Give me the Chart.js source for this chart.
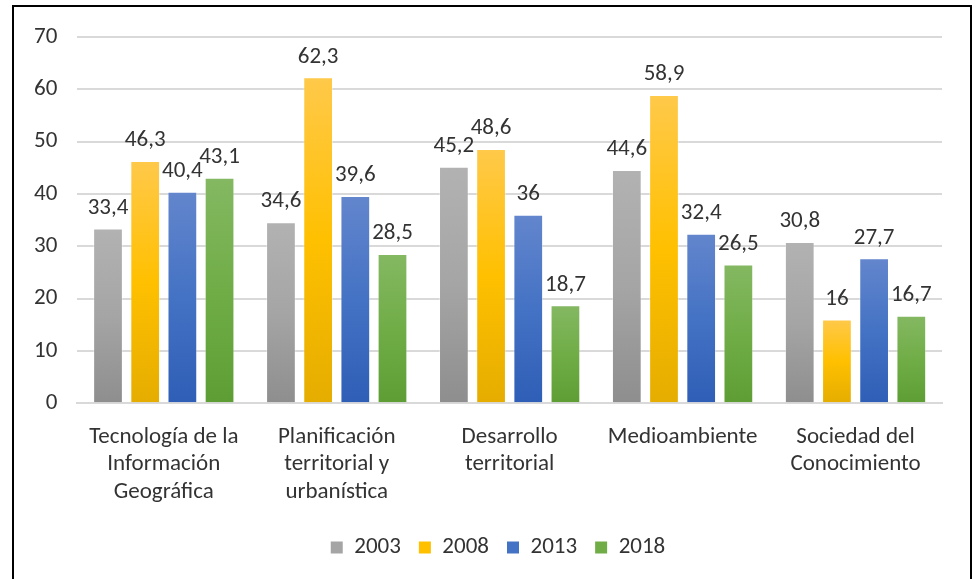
<!DOCTYPE html>
<html lang="es">
<head>
  <meta charset="UTF-8" />
  <title>Áreas temáticas</title>
  <script src="https://cdn.jsdelivr.net/npm/chart.js"></script>
  <style>
    body { margin: 0; background: #fff; }
    #frame {
      position: absolute; left: 12px; top: 5px;
      width: 956px; height: 600px;
      border: 2px solid #000;
    }
    #chart { position: absolute; left: 0; top: 0; }
  </style>
</head>
<body>
  <div id="frame"></div>
  <canvas id="chart" width="976" height="579"></canvas>

  <script>
    const categories = [
      ['Tecnología de la', 'Información', 'Geográfica'],
      ['Planificación', 'territorial y', 'urbanística'],
      ['Desarrollo', 'territorial'],
      'Medioambiente',
      ['Sociedad del', 'Conocimiento']
    ];
    const years = ['2003', '2008', '2013', '2018'];
    const v2003 = [33.4, 34.6, 45.2, 44.6, 30.8];
    const v2008 = [46.3, 62.3, 48.6, 58.9, 16];
    const v2013 = [40.4, 39.6, 36, 32.4, 27.7];
    const v2018 = [43.1, 28.5, 18.7, 26.5, 16.7];
    const yTicks = [0, 10, 20, 30, 40, 50, 60, 70];

    // top / middle / bottom of each bar's gradient
    const shades = [
      ['#b2b2b2', '#a5a5a5', '#8e8e8e'],
      ['#ffc94a', '#ffc000', '#e5ad00'],
      ['#6386cd', '#4472c4', '#2e5eb6'],
      ['#84b862', '#70ad47', '#5e9d34']
    ];

    const font = "Carlito, 'Open Sans', sans-serif";
    const fontSize = 23;
    const textColor = '#333333';

    function barFill(idx) {
      return (ctx) => {
        const chart = ctx.chart;
        const y = chart.scales && chart.scales.y;
        if (!y || ctx.type !== 'data') return shades[idx][1];
        const top = y.getPixelForValue(ctx.raw);
        const base = y.getPixelForValue(0);
        if (!isFinite(top) || top === base) return shades[idx][1];
        const g = chart.ctx.createLinearGradient(0, top, 0, base);
        g.addColorStop(0, shades[idx][0]);
        g.addColorStop(0.5, shades[idx][1]);
        g.addColorStop(1, shades[idx][2]);
        return g;
      };
    }

    // value labels above each bar, decimal comma
    const valueLabels = {
      id: 'valueLabels',
      afterDatasetsDraw(chart) {
        const c = chart.ctx;
        c.save();
        c.font = fontSize + 'px ' + font;
        c.fillStyle = textColor;
        c.textAlign = 'center';
        c.textBaseline = 'bottom';
        chart.data.datasets.forEach((ds, i) => {
          chart.getDatasetMeta(i).data.forEach((bar, j) => {
            const txt = String(ds.data[j]).replace('.', ',');
            c.fillText(txt, bar.x, bar.y - 9);
          });
        });
        c.restore();
      }
    };

    // legend sits a bit right of the canvas centre in the original
    const legendShift = {
      id: 'legendShift',
      afterLayout(chart) {
        chart.legend.left += 20;
        chart.legend.right += 20;
      }
    };

    const series = [v2003, v2008, v2013, v2018];

    new Chart(document.getElementById('chart'), {
      type: 'bar',
      data: {
        labels: categories,
        datasets: series.map((d, i) => ({
          label: years[i],
          data: d,
          backgroundColor: barFill(i),
          borderColor: 'rgba(255,255,255,0.35)',
          borderWidth: 1,
          categoryPercentage: 0.86,
          barPercentage: 0.8
        }))
      },
      options: {
        responsive: false,
        animation: false,
        layout: { padding: { left: 14, right: 34, top: 37, bottom: 10 } },
        plugins: {
          tooltip: { enabled: false },
          legend: {
            position: 'bottom',
            labels: {
              color: textColor,
              font: { size: fontSize, family: font },
              boxWidth: 12,
              boxHeight: 12,
              padding: 18,
              generateLabels: (chart) => years.map((y, i) => ({
                text: y,
                fillStyle: shades[i][1],
                strokeStyle: shades[i][1],
                lineWidth: 0,
                datasetIndex: i,
                fontColor: textColor
              }))
            }
          }
        },
        scales: {
          x: {
            grid: { display: false },
            border: { color: '#d9d9d9', width: 2 },
            ticks: {
              color: textColor,
              font: { size: fontSize, family: font, lineHeight: 1.2 },
              maxRotation: 0,
              padding: 12
            }
          },
          y: {
            min: 0,
            max: 70,
            afterBuildTicks: (axis) => { axis.ticks = yTicks.map(v => ({ value: v })); },
            grid: { color: '#d9d9d9', lineWidth: 2, drawTicks: false },
            border: { display: false },
            ticks: {
              color: textColor,
              font: { size: fontSize, family: font },
              padding: 20
            }
          }
        }
      },
      plugins: [valueLabels, legendShift]
    });
  </script>
</body>
</html>
